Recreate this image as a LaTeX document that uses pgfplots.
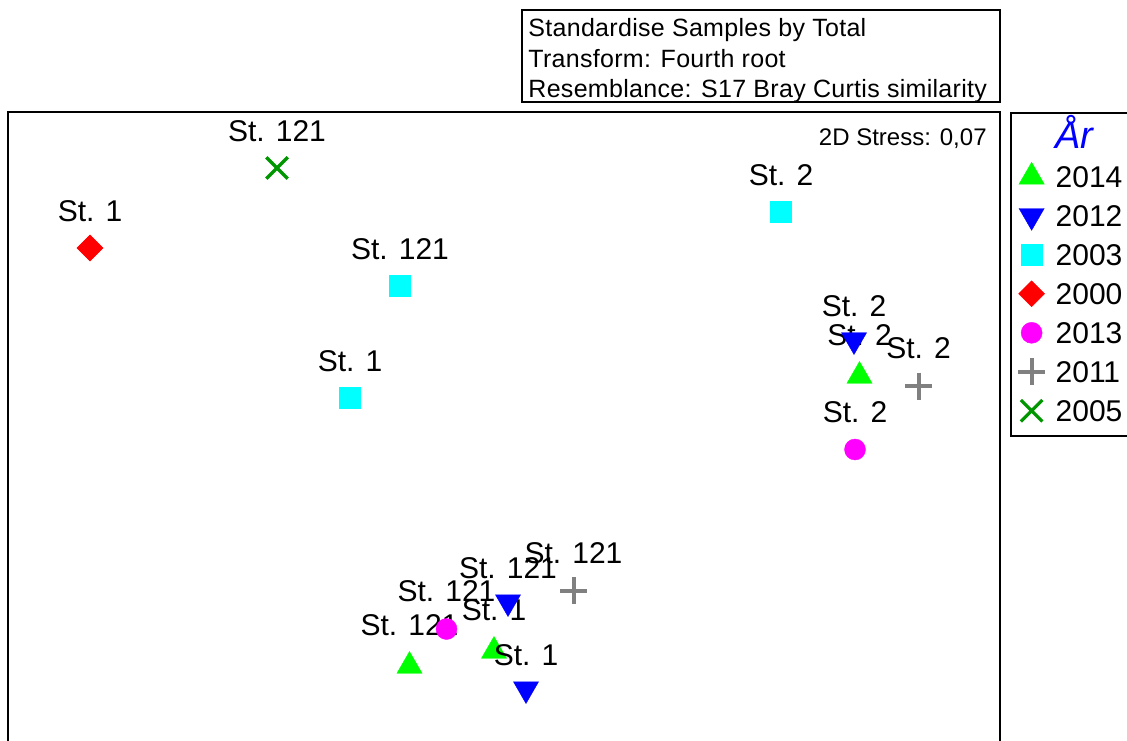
\documentclass[border=0pt]{standalone}
\usepackage{pgfplots}
\pgfplotsset{compat=1.18}
\usepackage{pgfplotstable}
\usepackage{fontspec}
\setmainfont{Liberation Sans}
\definecolor{cGreen}{RGB}{0,255,0}
\definecolor{cBlue}{RGB}{0,0,255}
\definecolor{cCyan}{RGB}{0,255,255}
\definecolor{cRed}{RGB}{255,0,0}
\definecolor{cMag}{RGB}{255,0,255}
\definecolor{cGray}{RGB}{128,128,128}
\definecolor{cDkGreen}{RGB}{0,150,0}
\newcommand\labfont{\fontsize{15}{18}\selectfont}
\newcommand\hdrfont{\fontsize{12.5}{14}\selectfont\addfontfeatures{LetterSpace=1.2}}

% MDS configuration (plot units)
\pgfplotstableread[col sep=comma]{
x,y,lab
859.5,364,St. 2
409.5,74,St. 121
494,89,St. 1
}\tblA % 2014
\pgfplotstableread[col sep=comma]{
x,y,lab
854,400,St. 2
508,138,St. 121
526,51,St. 1
}\tblB % 2012
\pgfplotstableread[col sep=comma]{
x,y,lab
781,528,St. 2
400,454,St. 121
350,342,St. 1
}\tblC % 2003
\pgfplotstableread[col sep=comma]{
x,y,lab
90,492,St. 1
}\tblD % 2000
\pgfplotstableread[col sep=comma]{
x,y,lab
855,290.5,St. 2
446.5,111,St. 121
}\tblE % 2013
\pgfplotstableread[col sep=comma]{
x,y,lab
918.5,354,St. 2
573.5,149.5,St. 121
}\tblF % 2011
\pgfplotstableread[col sep=comma]{
x,y,lab
277,572,St. 121
}\tblG % 2005

\begin{document}
\begin{tikzpicture}
\begin{axis}[
  x=0.5pt, y=0.5pt,
  xmin=8, xmax=1000, ymin=-60, ymax=628,
  axis line style={line width=1pt},
  xtick=\empty, ytick=\empty,
  clip=false,
  legend style={at={(1.0101,1)}, anchor=north west, draw=black, line width=1pt,
    font=\labfont, inner xsep=2.8pt, inner ysep=3pt, row sep=0.7pt, column sep=2.5pt,
    nodes={inner sep=2pt, text height=12.8pt, text depth=2pt}},
  legend cell align=left,
  legend image code/.code={\path (-7pt,0pt) (7pt,0pt); \draw[#1] plot coordinates {(0pt,0pt)};},
  every node near coord/.append style={anchor=center, text=black, font=\labfont},
  point meta=explicit symbolic,
]
\addlegendimage{empty legend}
\addlegendentry{\fontsize{19}{18}\selectfont\color{cBlue}\itshape År}

\addplot[only marks, mark=triangle*, mark size=7.25pt, color=cGreen, mark options={line width=0.2pt},
  nodes near coords, every node near coord/.append style={yshift=20.25pt}]
  table[x=x,y=y,meta=lab] {\tblA};
\addlegendentry{\makebox[40pt][l]{2014}}

\addplot[only marks, mark=triangle*, mark size=7.25pt, color=cBlue, mark options={line width=0.2pt, rotate=180},
  nodes near coords, every node near coord/.append style={yshift=16.75pt}]
  table[x=x,y=y,meta=lab] {\tblB};
\addlegendentry{2012}

\addplot[only marks, mark=square*, mark size=5.25pt, color=cCyan, mark options={line width=0.2pt},
  nodes near coords, every node near coord/.append style={yshift=18.6pt}]
  table[x=x,y=y,meta=lab] {\tblC};
\addlegendentry{2003}

\addplot[only marks, mark=square*, mark size=4.6pt, color=cRed, mark options={line width=0.2pt, rotate=45},
  nodes near coords, every node near coord/.append style={yshift=18.4pt}]
  table[x=x,y=y,meta=lab] {\tblD};
\addlegendentry{2000}

\addplot[only marks, mark=*, mark size=5.25pt, color=cMag, mark options={line width=0.2pt},
  nodes near coords, every node near coord/.append style={yshift=18.9pt}]
  table[x=x,y=y,meta=lab] {\tblE};
\addlegendentry{2013}

\addplot[only marks, mark=+, mark size=6.75pt, color=cGray, mark options={line width=2pt},
  nodes near coords, every node near coord/.append style={yshift=18.9pt}]
  table[x=x,y=y,meta=lab] {\tblF};
\addlegendentry{2011}

\addplot[only marks, mark=x, mark size=7.6pt, color=cDkGreen, mark options={line width=1.6pt},
  nodes near coords, every node near coord/.append style={yshift=18.5pt}]
  table[x=x,y=y,meta=lab] {\tblG};
\addlegendentry{2005}

% header box
\draw[line width=1pt] (axis cs:522,638) rectangle (axis cs:1000,730);
\node[anchor=west, inner sep=0pt, font=\hdrfont] at (axis cs:528,710) {Standardise Samples by Total};
\node[anchor=west, inner sep=0pt, font=\hdrfont] at (axis cs:528,681) {Transform: Fourth root};
\node[anchor=west, inner sep=0pt, font=\hdrfont] at (axis cs:528,649) {Resemblance: S17 Bray Curtis similarity};
\node[anchor=east, inner sep=0pt, font=\fontsize{12}{13}\selectfont] at (axis cs:987,601) {2D Stress: 0,07};

\coordinate (BBa) at (axis cs:0,0);
\coordinate (BBb) at (axis cs:1127,740);
\end{axis}
\pgfresetboundingbox
\path[use as bounding box] (BBa) rectangle (BBb);
\end{tikzpicture}
\end{document}
